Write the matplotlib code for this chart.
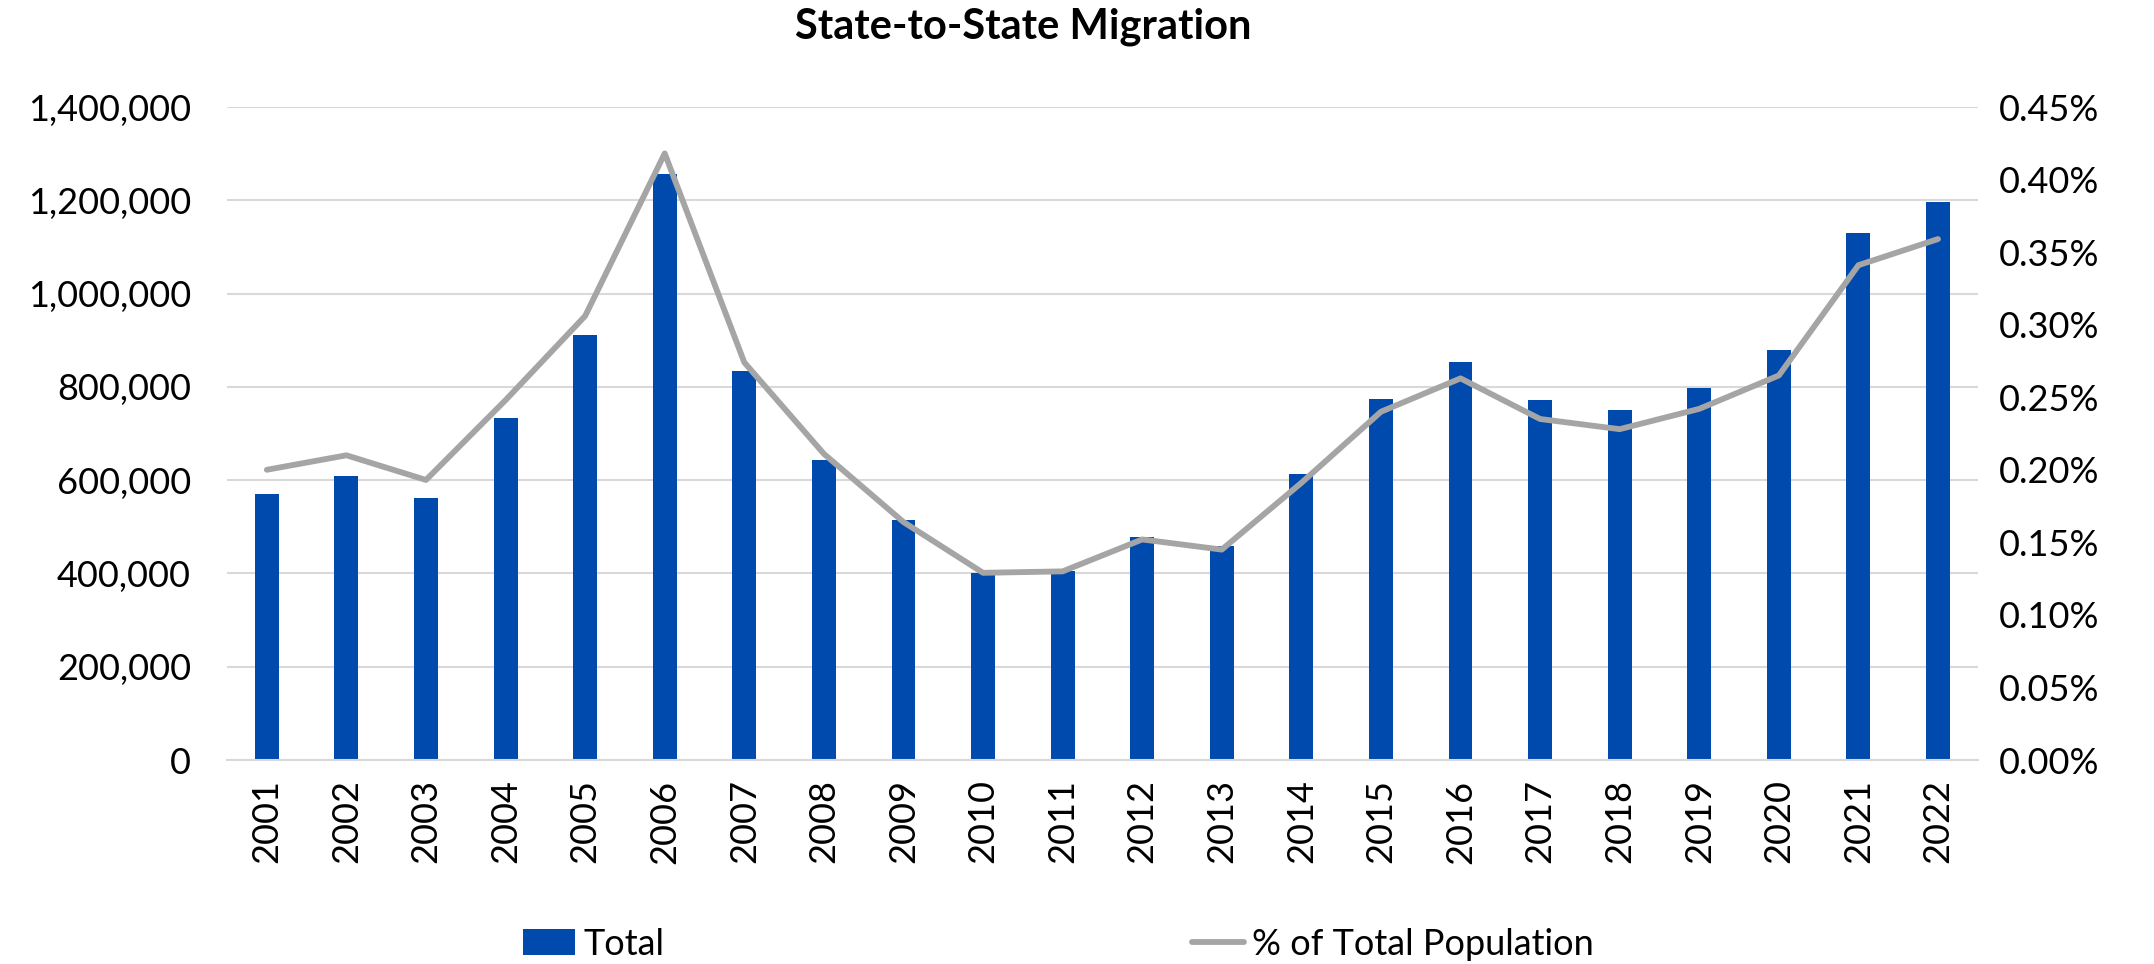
import numpy as np
import matplotlib.pyplot as plt
from matplotlib.ticker import FuncFormatter, MultipleLocator

plt.rcParams['font.family'] = ['Lato', 'DejaVu Sans']

# data
years = [str(y) for y in range(2001, 2023)]
total = [570000, 608000, 561000, 734000, 911000, 1257000, 834000, 643000,
         514000, 400000, 405000, 479000, 459000, 613000, 775000, 854000,
         771000, 750000, 798000, 879000, 1129000, 1196000]
pct = [0.200, 0.210, 0.193, 0.248, 0.306, 0.418, 0.274, 0.211,
       0.164, 0.129, 0.130, 0.152, 0.145, 0.191, 0.240, 0.263,
       0.235, 0.228, 0.242, 0.265, 0.341, 0.359]

bar_color = '#004AAD'
line_color = '#A5A5A5'
grid_color = '#D9D9D9'
fs = 26

fig = plt.figure(figsize=(21.54, 9.64), dpi=100)
ax = fig.add_axes([0.1054, 0.2116, 0.8128, 0.6774])
x = np.arange(len(years))

bars = ax.bar(x, total, width=0.3, color=bar_color, zorder=2, label='Total')
ax.set_ylim(0, 1400000)
ax.set_xlim(-0.5, len(years) - 0.5)
ax.yaxis.set_major_locator(MultipleLocator(200000))
ax.yaxis.set_major_formatter(FuncFormatter(lambda v, p: f'{int(v):,}'))
ax.grid(axis='y', color=grid_color, linewidth=1.5, zorder=0)
ax.set_axisbelow(True)
ax.set_xticks(x)
ax.set_xticklabels(years, rotation=90)
ax.tick_params(length=0, labelsize=fs)
ax.tick_params(axis='y', pad=26)
ax.tick_params(axis='x', pad=14)
for s in ['top', 'right', 'left']:
    ax.spines[s].set_visible(False)
ax.spines['bottom'].set_color(grid_color)
ax.spines['bottom'].set_linewidth(1.5)

ax2 = ax.twinx()
line, = ax2.plot(x, pct, color=line_color, linewidth=4.2, zorder=3,
                 solid_capstyle='round', label='% of Total Population')
ax2.set_ylim(0, 0.45)
ax2.yaxis.set_major_locator(MultipleLocator(0.05))
ax2.yaxis.set_major_formatter(FuncFormatter(lambda v, p: f'{v:.2f}%'))
ax2.tick_params(length=0, labelsize=fs, pad=15)
for s in ['top', 'right', 'left', 'bottom']:
    ax2.spines[s].set_visible(False)

fig.text(0.475, 0.972, 'State-to-State Migration', ha='center', va='center',
         fontsize=30, fontweight='bold')

fig.legend([bars, line], ['Total', '% of Total Population'], ncol=2,
           loc='center left', bbox_to_anchor=(0.243, 0.0207), frameon=False,
           fontsize=fs, handlelength=1.44, handletextpad=0.22,
           columnspacing=14.6, borderpad=0, borderaxespad=0)

fig.savefig('out.png', dpi=100)
